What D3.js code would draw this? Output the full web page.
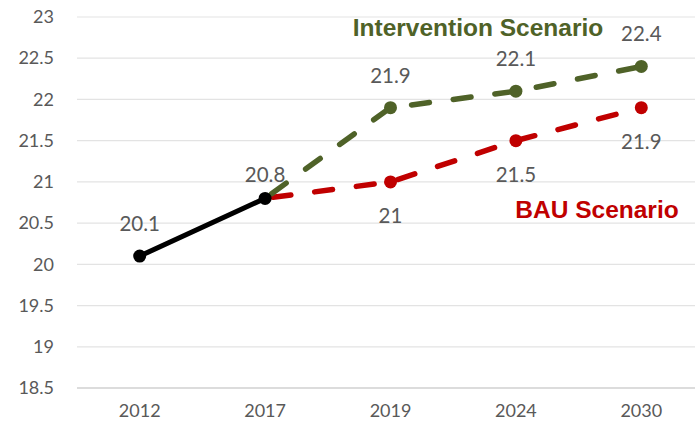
<!DOCTYPE html>
<html>
<head>
<meta charset="utf-8">
<script src="https://cdn.jsdelivr.net/npm/d3@7/dist/d3.min.js"></script>
<style>
  html, body { margin: 0; padding: 0; background: #fff; }
  svg { display: block; }
  .lbl { font-family: Lato, "Open Sans", sans-serif; }
  .scen { font-family: "Liberation Sans", Arial, sans-serif; font-weight: bold; }
</style>
</head>
<body>
<svg id="chart" width="695" height="429"></svg>
<script>
const years = ["2012", "2017", "2019", "2024", "2030"];
const yTicks = [18.5, 19, 19.5, 20, 20.5, 21, 21.5, 22, 22.5, 23];

// observed values
const historyYears = ["2012", "2017"];
const historyValues = [20.1, 20.8];

// projections starting from the 2017 observation
const scenarioYears = ["2017", "2019", "2024", "2030"];
const interventionValues = [20.8, 21.9, 22.1, 22.4];
const bauValues = [20.8, 21.0, 21.5, 21.9];

const svg = d3.select("#chart");
const W = 695;

const x = d3.scaleBand().domain(years).range([77, 704]);
const cx = d => x(d) + x.bandwidth() / 2;
const y = d3.scaleLinear().domain([18.5, 23]).range([388, 17]);

// horizontal gridlines
svg.append("g")
  .selectAll("line")
  .data(yTicks)
  .join("line")
  .attr("x1", 77).attr("x2", W)
  .attr("y1", d => y(d)).attr("y2", d => y(d))
  .attr("stroke", d => d === 18.5 ? "#d0d0d0" : "#e3e3e3")
  .attr("stroke-width", d => d === 18.5 ? 1.5 : 1.2);

function styleTicks(g) {
  g.select(".domain").remove();
  g.selectAll("text")
    .attr("class", "lbl")
    .attr("fill", "#595959")
    .attr("font-size", 18);
}

// y axis labels
svg.append("g")
  .attr("transform", "translate(54,0)")
  .call(d3.axisLeft(y).tickValues(yTicks).tickSize(0).tickPadding(0)
    .tickFormat(d3.format("~g")))
  .call(styleTicks);

// x axis labels
svg.append("g")
  .attr("transform", "translate(0,404)")
  .call(d3.axisBottom(x).tickSize(0).tickPadding(0))
  .call(styleTicks);

const line = d3.line().x(d => cx(d[0])).y(d => y(d[1]));

function drawSeries(cats, vals, color, dashed) {
  const pts = cats.map((c, i) => [c, vals[i]]);
  svg.append("path")
    .datum(pts)
    .attr("d", line)
    .attr("fill", "none")
    .attr("stroke", color)
    .attr("stroke-width", dashed ? 5.5 : 5)
    .attr("stroke-linecap", "round")
    .attr("stroke-dasharray", dashed ? "18 24" : null)
    .attr("stroke-dashoffset", dashed ? -8 : null);
  svg.append("g")
    .selectAll("circle")
    .data(pts.slice(dashed ? 1 : 0))
    .join("circle")
    .attr("cx", d => cx(d[0]))
    .attr("cy", d => y(d[1]))
    .attr("r", 6.5)
    .attr("fill", color);
}

drawSeries(scenarioYears, bauValues, "#c00000", true);
drawSeries(scenarioYears, interventionValues, "#4f6228", true);
drawSeries(historyYears, historyValues, "#000000", false);

// data labels; the 2017 label sits a little lower, closer to its point
function labels(cats, vals, dy, skipFirst) {
  const pts = cats.map((c, i) => [c, vals[i]]).slice(skipFirst ? 1 : 0);
  svg.append("g")
    .selectAll("text")
    .data(pts)
    .join("text")
    .attr("class", "lbl")
    .attr("x", d => cx(d[0]))
    .attr("y", d => y(d[1]) + (d[0] === "2017" ? dy + 9 : dy))
    .attr("text-anchor", "middle")
    .attr("fill", "#595959")
    .attr("font-size", 20.5)
    .text(d => d3.format("~g")(d[1]));
}
labels(historyYears, historyValues, -25, false);
labels(scenarioYears, interventionValues, -25, true);
labels(scenarioYears, bauValues, 41, true);

// scenario names
svg.append("text")
  .attr("class", "scen")
  .attr("x", 478).attr("y", 36)
  .attr("text-anchor", "middle")
  .attr("fill", "#4f6228")
  .attr("font-size", 24.5)
  .text("Intervention Scenario");

svg.append("text")
  .attr("class", "scen")
  .attr("x", 597).attr("y", 218)
  .attr("text-anchor", "middle")
  .attr("fill", "#c00000")
  .attr("font-size", 24.5)
  .text("BAU Scenario");
</script>
</body>
</html>
